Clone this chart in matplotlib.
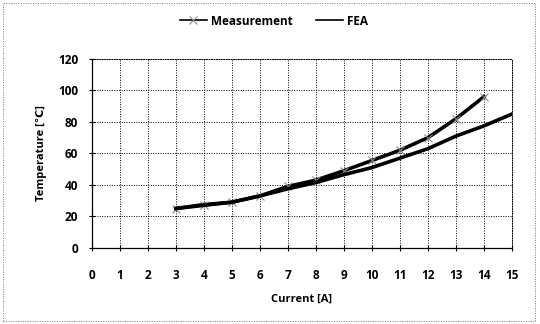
import matplotlib
matplotlib.use("Agg")
import matplotlib.pyplot as plt
from matplotlib.patches import Rectangle

# data
current = [3, 4, 5, 6, 7, 8, 9, 10, 11, 12, 13, 14]
measurement = [25, 27.5, 29, 33, 39, 43, 49, 55.5, 62, 70, 82, 96]
current_fea = [3, 4, 5, 6, 7, 8, 9, 10, 11, 12, 13, 14, 15]
fea = [25, 27, 29, 33, 37.5, 41.5, 46.5, 51, 57, 63, 71, 77.5, 85]
x_ticks = list(range(0, 16))
y_ticks = [0, 20, 40, 60, 80, 100, 120]

plt.rcParams['font.family'] = ['Open Sans', 'DejaVu Sans']

fig = plt.figure(figsize=(5.4, 3.24), dpi=100)
ax = fig.add_axes([0.170, 0.235, 0.778, 0.583])

ax.plot(current, measurement, color='black', lw=2.6, marker='x', ms=6,
        mec='#888888', mew=0.8, label='Measurement')
ax.plot(current_fea, fea, color='black', lw=2.6, label='FEA')

ax.set_xlim(0, 15)
ax.set_ylim(0, 120)
ax.set_xticks(x_ticks)
ax.set_yticks(y_ticks)
ax.tick_params(direction='inout', length=4, width=0.8, labelsize=8.5)
ax.tick_params(axis='x', pad=13)
ax.tick_params(axis='y', pad=8)
for lab in ax.get_xticklabels() + ax.get_yticklabels():
    lab.set_fontweight('bold')
ax.grid(True, color='black', ls=(0, (1, 1.5)), lw=0.7)
for s in ['top', 'right']:
    ax.spines[s].set_linestyle((0, (1, 1.5)))
    ax.spines[s].set_linewidth(0.7)
for s in ['left', 'bottom']:
    ax.spines[s].set_linewidth(0.9)

ax.set_xlabel('Current [A]', fontsize=8, fontweight='bold', labelpad=9)
ax.set_ylabel('Temperature [℃]', fontsize=8, fontweight='bold', labelpad=8)

leg = fig.legend(loc='center', bbox_to_anchor=(0.507, 0.935), ncol=2,
                 frameon=False, fontsize=8.5, handlelength=2.3,
                 columnspacing=2.0, handletextpad=0.3)
for t in leg.get_texts():
    t.set_fontweight('bold')
for h in leg.get_lines():
    h.set_linewidth(1.2)

fig.patches.append(Rectangle((0.005, 0.01), 0.985, 0.98, transform=fig.transFigure,
                             fill=False, ec='#777777', lw=0.7, ls=(0, (1, 1.5))))

fig.savefig('out.png', dpi=100)
